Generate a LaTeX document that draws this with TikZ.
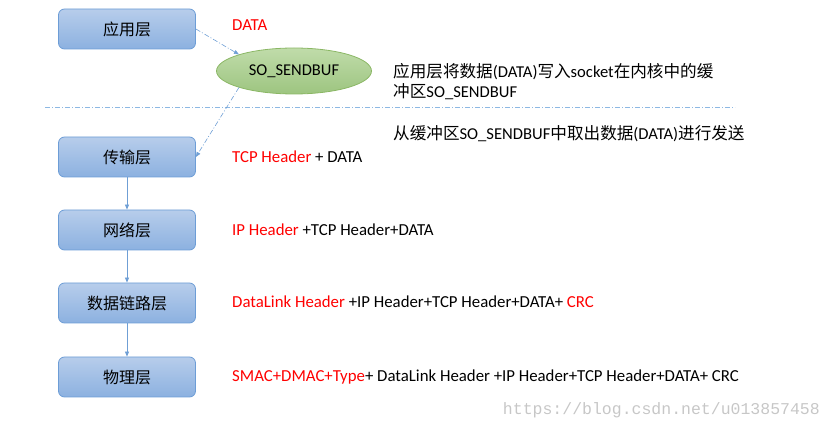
\documentclass[tikz,border=0pt]{standalone}
\usepackage{fontspec}
\setmainfont{Carlito}
\newfontfamily\cjk{Noto Sans CJK SC}
\newfontfamily\wmfont{Liberation Mono}
\usepackage{xcolor}
\usetikzlibrary{arrows.meta,positioning,shapes.geometric}
\definecolor{boxtop}{HTML}{B7CDEB}
\definecolor{boxbot}{HTML}{8CB1E0}
\definecolor{boxline}{HTML}{6D9DD6}
\definecolor{elltop}{HTML}{C0DCAA}
\definecolor{ellbot}{HTML}{9DC580}
\definecolor{ellline}{HTML}{8BB765}
\definecolor{linkblue}{HTML}{6F9FD5}
\definecolor{seplight}{HTML}{8DB8E3}
\newcommand\zh[1]{{\cjk #1}}

\begin{document}
\begin{tikzpicture}[
    x=1pt, y=-1pt,
    layer/.style={rectangle, rounded corners=6pt, minimum width=137pt, minimum height=40pt,
      top color=boxtop, bottom color=boxbot, draw=boxline, line width=0.8pt,
      font=\fontsize{16}{20}\selectfont\cjk},
    buf/.style={ellipse, minimum width=155pt, minimum height=46pt, inner sep=0pt,
      top color=elltop, bottom color=ellbot, draw=ellline, line width=0.8pt,
      font=\fontsize{16.5}{18}\selectfont},
    hdr/.style={anchor=west, inner sep=0pt, font=\fontsize{16.8}{18}\selectfont},
    note/.style={anchor=west, inner sep=0pt, align=left, font=\fontsize{16.6}{20}\selectfont},
    flow/.style={linkblue, line width=0.8pt, -{Triangle[length=5pt,width=4pt]}},
    dashdot/.style={dash pattern=on 5pt off 2pt on 1pt off 2pt},
    link/.style={flow, dashdot, line width=0.6pt}
  ]
    \useasboundingbox (0,0) rectangle (831,430);
    % layers
    \node[layer] (app) at (127,29) {应用层};
    \node[layer] (trans) at (127,157) {传输层};
    \node[layer] (net) at (127,230) {网络层};
    \node[layer] (link) at (127,303) {数据链路层};
    \node[layer] (phy) at (127,377) {物理层};
    \node[buf] (sendbuf) at (294,71) {SO\_SENDBUF};
    % user space / kernel
    \coordinate (sepl) at (45,107);
    \coordinate (sepr) at (735,107);
    \draw[seplight, dashdot, line width=0.7pt] (sepl) -- (sepr);
    \draw[link] (app.east) -- (sendbuf.north west);
    \draw[link] (sendbuf.south west) -- (trans.east);
    \draw[flow] (trans) -- (net);
    \draw[flow] (net) -- (link);
    \draw[flow] (link) -- (phy);
    % notes
    \node[hdr, red] (data) at (232,25) {DATA};
    \node[note] (write) at (393,82) {\zh{应用层将数据}(DATA)\zh{写入}socket\zh{在内核中的缓}\\\zh{冲区}SO\_SENDBUF};
    \node[note] (send) at (393,134) {\zh{从缓冲区}SO\_SENDBUF\zh{中取出数据}(DATA)\zh{进行发送}};
    \node[hdr] (hdrtrans) at (232,157) {\textcolor{red}{TCP Header} + DATA};
    \node[hdr] (hdrnet) at (232,230) {\textcolor{red}{IP Header} +TCP Header+DATA};
    \node[hdr] (hdrlink) at (232,302) {\textcolor{red}{DataLink Header} +IP Header+TCP Header+DATA+ \textcolor{red}{CRC}};
    \node[hdr] (hdrphy) at (232,377) {\textcolor{red}{SMAC+DMAC+Type}+ DataLink Header +IP Header+TCP Header+DATA+ CRC};
    \node[anchor=east, inner sep=0pt, black!22, font=\fontsize{16.5}{18}\selectfont\wmfont] (mark) at (820,410) {https://blog.csdn.net/u013857458};
  \end{tikzpicture}
\end{document}
